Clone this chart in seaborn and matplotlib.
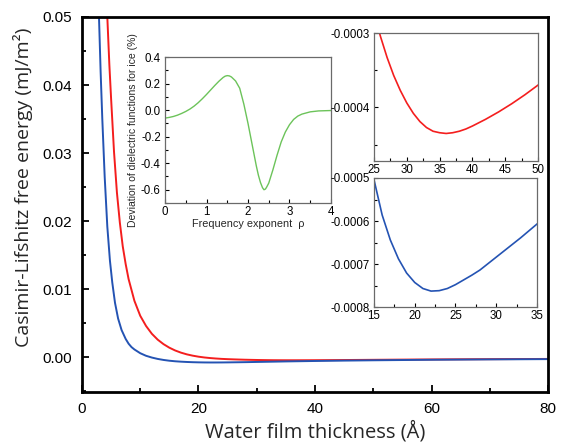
import numpy as np
import pandas as pd
import matplotlib
matplotlib.use("Agg")
import matplotlib.pyplot as plt
from matplotlib.ticker import MultipleLocator, FormatStrFormatter
import seaborn as sns

# 主图数据: 水膜厚度 (Å) 与 Casimir-Lifshitz 自由能 (mJ/m²)
thick_red = [4.1, 4.35, 4.7, 5.0, 5.5, 6.0, 6.5, 7.0, 7.5, 8.0, 9.0, 10.0,
             11.0, 12.0, 13.0, 14.0, 15.0, 16.0, 17.0, 18.0, 19.0, 20.0, 21.0,
             22.0, 23.0, 24.0, 25.0, 26.0, 27.0, 28.0, 29.0, 30.0, 31.0, 32.0,
             33.0, 34.0, 35.0, 36.0, 37.0, 38.0, 39.0, 40.0, 42.0, 44.0, 46.0,
             48.0, 50.0, 55.0, 60.0, 65.0, 70.0, 75.0, 80.0]
energy_red = [0.0575, 0.050, 0.0430, 0.0380, 0.0302, 0.0242, 0.0198, 0.0163,
              0.0137, 0.0115, 0.0083, 0.0061, 0.0046, 0.00345, 0.00259,
              0.00193, 0.00141, 0.0010, 0.00068, 0.00043, 0.00024, 0.00009,
              -0.000025, -0.000113, -0.00018, -0.000235, -0.000274, -0.000305,
              -0.000333, -0.000357, -0.000377, -0.000394, -0.000408, -0.000419,
              -0.000427, -0.000432, -0.000434, -0.000435, -0.000434, -0.000432,
              -0.000429, -0.000425, -0.000416, -0.000406, -0.000395, -0.000383,
              -0.00037, -0.00034, -0.000314, -0.000292, -0.000273, -0.000256,
              -0.000241]

thick_blue = [2.75, 2.92, 3.2, 3.49, 3.9, 4.35, 4.8, 5.2, 5.67, 6.2, 6.8, 7.5,
              8.0, 8.5, 9.0, 10.0, 11.0, 12.0, 13.0, 14.0, 15.0, 16.0, 17.0,
              18.0, 19.0, 20.0, 21.0, 22.0, 23.0, 24.0, 25.0, 26.0, 27.0, 28.0,
              29.0, 30.0, 31.0, 32.0, 33.0, 34.0, 35.0, 40.0, 45.0, 50.0, 60.0,
              70.0, 80.0]
energy_blue = [0.0553, 0.050, 0.042, 0.0350, 0.0265, 0.0192, 0.0142, 0.0110,
               0.0080, 0.0057, 0.0040, 0.0027, 0.0020, 0.0015, 0.00115, 0.0006,
               0.00022, -0.00004, -0.00024, -0.00039, -0.000504, -0.000586,
               -0.000644, -0.000688, -0.000721, -0.000743, -0.000757,
               -0.000763, -0.000762, -0.000757, -0.000748, -0.000737,
               -0.000726, -0.000714, -0.000699, -0.000684, -0.000669,
               -0.000654, -0.000639, -0.000623, -0.000607, -0.000542,
               -0.000487, -0.00044, -0.000365, -0.00031, -0.000268]

# 插图数据: 冰介电函数偏差 (%) 与频率指数 ρ
rho = [0.0, 0.1, 0.2, 0.3, 0.4, 0.5, 0.6, 0.7, 0.8, 0.9, 1.0, 1.1, 1.2, 1.3,
       1.4, 1.45, 1.5, 1.55, 1.6, 1.7, 1.8, 1.9, 2.0, 2.1, 2.2, 2.25, 2.3,
       2.35, 2.385, 2.42, 2.45, 2.5, 2.6, 2.7, 2.8, 2.9, 3.0, 3.1, 3.2, 3.3,
       3.5, 3.7, 4.0]
deviation = [-0.060, -0.055, -0.048, -0.038, -0.025, -0.010, 0.008, 0.030,
             0.056, 0.086, 0.118, 0.152, 0.186, 0.218, 0.246, 0.256, 0.260,
             0.258, 0.250, 0.220, 0.165, 0.045, -0.100, -0.260, -0.420,
             -0.490, -0.545, -0.585, -0.600, -0.595, -0.580, -0.550, -0.450,
             -0.340, -0.240, -0.165, -0.110, -0.070, -0.045, -0.030, -0.013,
             -0.006, -0.003]

RED = "#f41e1e"
BLUE = "#2453b3"
GREEN = "#6cc35a"

sns.set_theme(style="ticks")
plt.rcParams["font.family"] = ["Liberation Sans", "DejaVu Sans"]
plt.rcParams["axes.unicode_minus"] = False

fig = plt.figure(figsize=(5.63, 4.45), dpi=100)

# 主图
ax = fig.add_axes([0.1456, 0.1191, 0.8278, 0.8427])
sns.lineplot(x=thick_red, y=energy_red, color=RED, lw=1.4, ax=ax)
sns.lineplot(x=thick_blue, y=energy_blue, color=BLUE, lw=1.4, ax=ax)
ax.set_xlim(0, 80)
ax.set_ylim(-0.0051, 0.05)
ax.xaxis.set_major_locator(MultipleLocator(20))
ax.xaxis.set_minor_locator(MultipleLocator(10))
ax.yaxis.set_major_locator(MultipleLocator(0.01))
ax.yaxis.set_minor_locator(MultipleLocator(0.005))
ax.yaxis.set_major_formatter(FormatStrFormatter("%.2f"))
ax.tick_params(which="both", direction="in", width=1.3, labelsize=11,
               colors="black")
ax.tick_params(which="major", length=5, pad=7)
ax.tick_params(which="minor", length=3)
for s in ax.spines.values():
    s.set_linewidth(2)
    s.set_color("black")
ax.set_xlabel("Water film thickness (Å)", family=["Open Sans", "DejaVu Sans"],
              fontsize=14.5, labelpad=4)
ax.set_ylabel("Casimir-Lifshitz free energy (mJ/m²)",
              family=["Open Sans", "DejaVu Sans"], fontsize=14)
ax.yaxis.set_label_coords(-0.105, 0.547)


def style_inset(a):
    for s in a.spines.values():
        s.set_linewidth(0.9)
        s.set_color("#6a6a6a")
    a.tick_params(which="both", direction="in", width=0.8, labelsize=8.3,
                  colors="black", pad=2)
    a.tick_params(axis="y", pad=3)
    a.tick_params(which="major", length=3)
    a.tick_params(which="minor", length=2)


# 插图1: 介电函数偏差
ax1 = fig.add_axes([0.2931, 0.5438, 0.2948, 0.328])
sns.lineplot(x=rho, y=deviation, color=GREEN, lw=1.0, ax=ax1)
ax1.set_xlim(0, 4)
ax1.set_ylim(-0.7, 0.4)
ax1.xaxis.set_major_locator(MultipleLocator(1))
ax1.xaxis.set_minor_locator(MultipleLocator(0.5))
ax1.yaxis.set_major_locator(MultipleLocator(0.2))
ax1.yaxis.set_minor_locator(MultipleLocator(0.1))
ax1.yaxis.set_major_formatter(FormatStrFormatter("%.1f"))
style_inset(ax1)
ax1.set_xlabel("Frequency exponent  ρ", fontsize=7.8, labelpad=1)
ax1.set_ylabel("Deviation of dielectric functions for ice (%)", fontsize=7.5,
               labelpad=2)

# 插图2: 红线局部
ax2 = fig.add_axes([0.6643, 0.6382, 0.2913, 0.2876])
sns.lineplot(x=thick_red, y=energy_red, color=RED, lw=1.2, ax=ax2)
ax2.set_xlim(25, 50)
ax2.set_ylim(-0.000472, -0.0003)
ax2.xaxis.set_major_locator(MultipleLocator(5))
ax2.xaxis.set_minor_locator(MultipleLocator(2.5))
ax2.yaxis.set_major_locator(MultipleLocator(0.0001))
ax2.yaxis.set_minor_locator(MultipleLocator(0.00005))
ax2.yaxis.set_major_formatter(FormatStrFormatter("%.4f"))
style_inset(ax2)

# 插图3: 蓝线局部
ax3 = fig.add_axes([0.6643, 0.3101, 0.2895, 0.2899])
sns.lineplot(x=thick_blue, y=energy_blue, color=BLUE, lw=1.2, ax=ax3)
ax3.set_xlim(15, 35)
ax3.set_ylim(-0.0008, -0.0005)
ax3.xaxis.set_major_locator(MultipleLocator(5))
ax3.xaxis.set_minor_locator(MultipleLocator(2.5))
ax3.yaxis.set_major_locator(MultipleLocator(0.0001))
ax3.yaxis.set_minor_locator(MultipleLocator(0.00005))
ax3.yaxis.set_major_formatter(FormatStrFormatter("%.4f"))
style_inset(ax3)

fig.savefig("out.png", dpi=100)
